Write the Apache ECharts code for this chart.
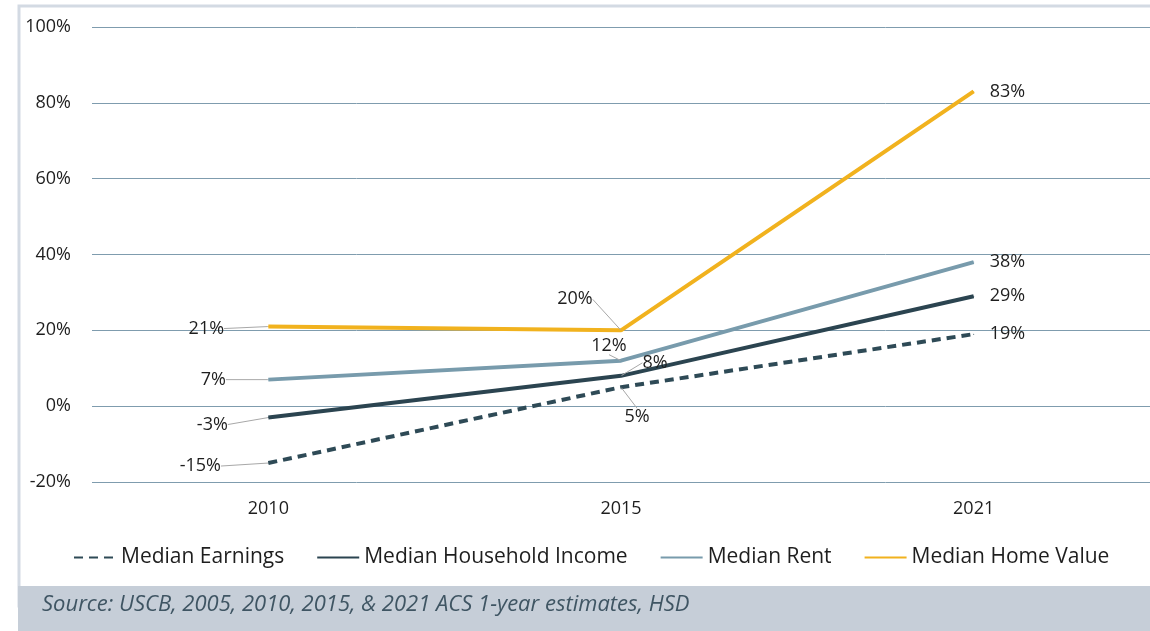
<!DOCTYPE html>
<html>
<head>
<meta charset="utf-8">
<script src="https://cdn.jsdelivr.net/npm/echarts@6/dist/echarts.min.js"></script>
<style>
  html, body { margin: 0; padding: 0; background: #fff; }
  #chart { width: 1150px; height: 631px; }
</style>
</head>
<body>
<div id="chart"></div>
<script>
const years = ['2010', '2015', '2021']
const medianEarnings = [-15, 5, 19]
const medianHouseholdIncome = [-3, 8, 29]
const medianRent = [7, 12, 38]
const medianHomeValue = [21, 20, 83]
const yTicks = { min: -20, max: 100, interval: 20 }

// where each point's label sits, offset from the point (px)
const labelOffsets = {
  'Median Earnings': [[-68, 3], [16, 30]],
  'Median Household Income': [[-56, 7], [34, -13]],
  'Median Rent': [[-55, 0], [-12, -15]],
  'Median Home Value': [[-62, 2], [-46, -31]]
}

const textColor = '#1e1e1e'

function makeSeries (name, values, color, dashed) {
  return {
    name: name,
    type: 'line',
    data: values.map((v, i) => i === values.length - 1 ? {value: v, label: {show: false}} : v),
    symbol: 'circle',
    symbolSize: 1,
    itemStyle: {color: color},
    lineStyle: {color: color, width: 4, type: dashed ? [9, 6] : 'solid'},
    label: {
      show: true,
      formatter: p => p.value + '%',
      fontSize: 18,
      color: textColor,
      fontFamily: 'Open Sans'
    },
    labelLine: {show: true, lineStyle: {color: '#a8a8a8', width: 1}},
    labelLayout: function (params) {
      const off = labelOffsets[name][params.dataIndex]
      if (!off) return {}
      const cx = params.rect.x + params.rect.width / 2
      const cy = params.rect.y + params.rect.height / 2
      return {x: cx + off[0], y: cy + off[1], align: 'center', verticalAlign: 'middle'}
    },
    endLabel: {
      show: true,
      formatter: p => p.value + '%',
      distance: 16,
      fontSize: 18,
      color: textColor,
      fontFamily: 'Open Sans'
    },
    emphasis: {disabled: true}
  }
}

const chart = echarts.init(document.getElementById('chart'))
chart.setOption({
  animation: false,
  backgroundColor: '#fff',
  textStyle: {fontFamily: 'Open Sans'},
  grid: {left: 92, right: 0, top: 27, bottom: 149},
  xAxis: {
    type: 'category',
    data: years,
    axisLine: {show: false},
    axisTick: {show: false},
    axisLabel: {fontSize: 18, color: textColor, margin: 18}
  },
  yAxis: {
    type: 'value',
    min: yTicks.min,
    max: yTicks.max,
    interval: yTicks.interval,
    axisLabel: {fontSize: 18, color: textColor, margin: 21, formatter: '{value}%'},
    splitLine: {lineStyle: {color: '#7f9cae', width: 1}}
  },
  legend: {
    bottom: 58,
    left: 68,
    itemWidth: 42,
    itemHeight: 4,
    itemGap: 32,
    itemStyle: {opacity: 0},
    textStyle: {fontSize: 21, color: textColor},
    data: ['Median Earnings', 'Median Household Income', 'Median Rent', 'Median Home Value']
  },
  graphic: [
    {
      type: 'rect',
      z: -10,
      silent: true,
      shape: {x: 19, y: 6, width: 1140, height: 600},
      style: {fill: 'none', stroke: '#d3dae3', lineWidth: 3}
    },
    {
      type: 'rect',
      z: -5,
      silent: true,
      shape: {x: 18, y: 586, width: 1140, height: 50},
      style: {fill: '#c6ced8'}
    },
    {
      type: 'text',
      left: 42,
      top: 594,
      silent: true,
      style: {
        text: 'Source: USCB, 2005, 2010, 2015, & 2021 ACS 1-year estimates, HSD',
        fontSize: 22,
        fontStyle: 'italic',
        fontFamily: 'Open Sans',
        fill: '#3f5563'
      }
    }
  ],
  series: [
    makeSeries('Median Earnings', medianEarnings, '#2e4a56', true),
    makeSeries('Median Household Income', medianHouseholdIncome, '#2b4450', false),
    makeSeries('Median Rent', medianRent, '#789bac', false),
    makeSeries('Median Home Value', medianHomeValue, '#f1b21e', false)
  ]
})
</script>
</body>
</html>
